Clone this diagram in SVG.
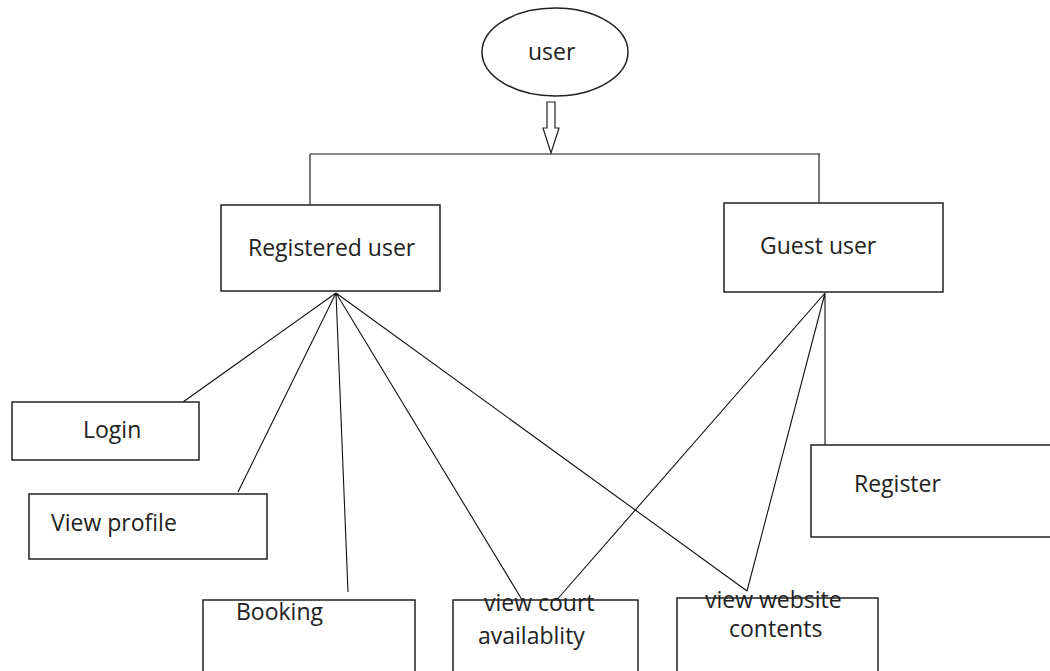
<svg xmlns="http://www.w3.org/2000/svg" width="1050" height="671" viewBox="0 0 1050 671">
<style>
.box{fill:#fff;stroke:#222;stroke-width:1.5}
.lbl{font-family:"Open Sans","Noto Sans",sans-serif;font-size:23px;fill:#222}
.ln{stroke:#111;stroke-width:1.1;fill:none}
</style>
<rect width="1050" height="671" fill="#fff"/>
<g id="user">
<ellipse cx="555" cy="52" rx="73" ry="44" class="box"/>
<text x="528" y="60" class="lbl">user</text>
</g>
<g id="connectors">
<polygon points="547,102 555,102 555,128 559,128 551,153 543,128 547,128" fill="#fff" stroke="#222" stroke-width="1.2"/>
<path class="ln" d="M310,154 H820 M310,154 V205 M819,154 V203"/>
<path class="ln" d="M336,293 L183,402 M336,293 L238,492 M336,293 L348,592 M336,293 L524,603 M336,293 L747,591"/>
<path class="ln" d="M825,293 L554,603 M825,293 L747,591 M825,293 V445"/>
</g>
<g id="registered"><rect x="221" y="205" width="219" height="86" class="box"/><text x="248" y="256" class="lbl">Registered user</text></g>
<g id="guest"><rect x="724" y="203" width="219" height="89" class="box"/><text x="760" y="254" class="lbl">Guest user</text></g>
<g id="login"><rect x="12" y="402" width="187" height="58" class="box"/><text x="83" y="438" class="lbl">Login</text></g>
<g id="viewprofile"><rect x="29" y="494" width="238" height="65" class="box"/><text x="51" y="531" class="lbl">View profile</text></g>
<g id="register"><rect x="811" y="445" width="250" height="92" class="box"/><text x="854" y="492" class="lbl">Register</text></g>
<g id="booking"><rect x="203" y="600" width="212" height="80" class="box"/><text x="236" y="620" class="lbl">Booking</text></g>
<g id="viewcourt"><rect x="453" y="600" width="185" height="80" class="box"/><text x="484" y="611" class="lbl">view court</text><text x="478" y="644" class="lbl">availablity</text></g>
<g id="viewwebsite"><rect x="677" y="598" width="201" height="80" class="box"/><text x="705" y="608" class="lbl">view website</text><text x="729" y="637" class="lbl">contents</text></g>
</svg>
